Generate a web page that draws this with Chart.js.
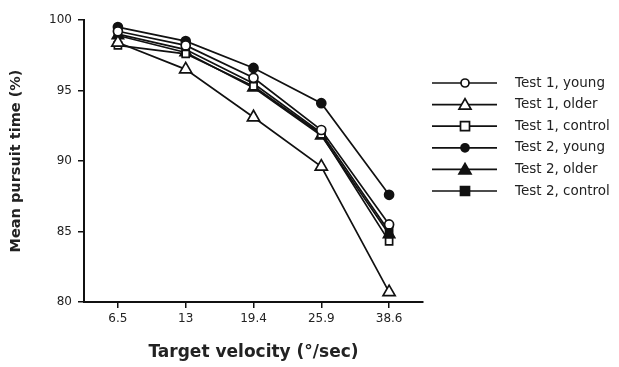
<!DOCTYPE html>
<html><head><meta charset="utf-8">
<script src="https://cdn.jsdelivr.net/npm/chart.js@4.4.0/dist/chart.umd.min.js"></script>
<style>html,body{margin:0;padding:0;background:#fff}#wrap{width:619px;height:367px;position:relative}</style>
</head><body><div id="wrap"><canvas id="c" width="619" height="367"></canvas></div>
<script>
const categories = ['6.5', '13', '19.4', '25.9', '38.6'];
const yTicks = [80, 85, 90, 95, 100];
const seriesNames = ['Test 1, young', 'Test 1, older', 'Test 1, control', 'Test 2, young', 'Test 2, older', 'Test 2, control'];
const test1Young = [99.2, 98.2, 95.9, 92.2, 85.5];
const test1Older = [98.4, 96.5, 93.1, 89.6, 80.7];
const test1Control = [98.2, 97.6, 95.3, 91.9, 84.3];
const test2Young = [99.5, 98.5, 96.6, 94.1, 87.6];
const test2Older = [98.9, 97.7, 95.2, 91.8, 84.8];
const test2Control = [99.0, 97.9, 95.5, 92.0, 85.0];

const styles = [
  {pointStyle:'circle', fill:'#fff', r:4.5},
  {pointStyle:'triangle', fill:'#fff', r:7},
  {pointStyle:'rect', fill:'#fff', r:5},
  {pointStyle:'circle', fill:'#111', r:4.5},
  {pointStyle:'triangle', fill:'#111', r:6.5},
  {pointStyle:'rect', fill:'#111', r:5}
];
const values = [test1Young, test1Older, test1Control, test2Young, test2Older, test2Control];
const font = "'DejaVu Sans', sans-serif";

const datasets = values.map((v, i) => ({
  label: seriesNames[i],
  data: v,
  borderColor: '#111',
  borderWidth: 1.7,
  pointStyle: styles[i].pointStyle,
  pointRadius: styles[i].r,
  pointBackgroundColor: styles[i].fill,
  pointBorderColor: '#111',
  pointBorderWidth: 1.7,
  fill: false,
  tension: 0
}));

const legendPlugin = {
  id: 'customLegend',
  afterDraw(chart) {
    const ctx = chart.ctx;
    ctx.save();
    const x0 = 432, x1 = 497, xm = 465, tx = 515;
    seriesNames.forEach((name, i) => {
      const y = 83 + i * 21.6;
      ctx.strokeStyle = '#111'; ctx.lineWidth = 1.7;
      ctx.beginPath(); ctx.moveTo(x0, y); ctx.lineTo(x1, y); ctx.stroke();
      const st = styles[i];
      ctx.fillStyle = st.fill; ctx.lineWidth = 1.7;
      const r = st.pointStyle === 'triangle' ? 6 : (st.pointStyle === 'rect' ? 4.5 : 4);
      ctx.beginPath();
      if (st.pointStyle === 'circle') { ctx.arc(xm, y, r, 0, Math.PI * 2); }
      else if (st.pointStyle === 'rect') { ctx.rect(xm - r, y - r, 2 * r, 2 * r); }
      else { ctx.moveTo(xm, y - r); ctx.lineTo(xm + r, y + r * 0.75); ctx.lineTo(xm - r, y + r * 0.75); ctx.closePath(); }
      ctx.fill(); ctx.stroke();
      ctx.fillStyle = '#222';
      ctx.font = "13.5px " + font;
      ctx.textBaseline = 'middle';
      ctx.fillText(name, tx, y);
    });
    ctx.restore();
  }
};

new Chart(document.getElementById('c'), {
  type: 'line',
  data: { labels: categories, datasets },
  options: {
    responsive: false,
    animation: false,
    layout: { padding: { top: 20, right: 196, left: 0, bottom: 0 } },
    plugins: { legend: { display: false }, tooltip: { enabled: false } },
    scales: {
      x: {
        type: 'category',
        offset: true,
        grid: { display: true, drawOnChartArea: false, drawTicks: true, tickLength: 6, color: '#111', offset: false, lineWidth: 1.5 },
        border: { color: '#111', width: 2 },
        ticks: { color: '#222', font: { family: font, size: 12 }, padding: 4, maxRotation: 0 },
        title: { display: true, text: 'Target velocity (°/sec)', color: '#222', font: { family: font, size: 17, weight: 'bold' }, padding: { top: 16 } },
        afterFit(s) { s.height = 65; }
      },
      y: {
        min: 80, max: 100,
        afterBuildTicks(s) { s.ticks = yTicks.map(v => ({ value: v })); },
        grid: { display: true, drawOnChartArea: false, drawTicks: true, tickLength: 6, color: '#111', lineWidth: 1.5 },
        border: { color: '#111', width: 2 },
        ticks: { color: '#222', font: { family: font, size: 12 }, padding: 6 },
        title: { display: true, text: 'Mean pursuit time (%)', color: '#222', font: { family: font, size: 14.5, weight: 'bold' }, padding: { top: 8, bottom: 10 } },
        afterFit(s) { s.width = 84; }
      }
    }
  },
  plugins: [legendPlugin]
});
</script></body></html>
